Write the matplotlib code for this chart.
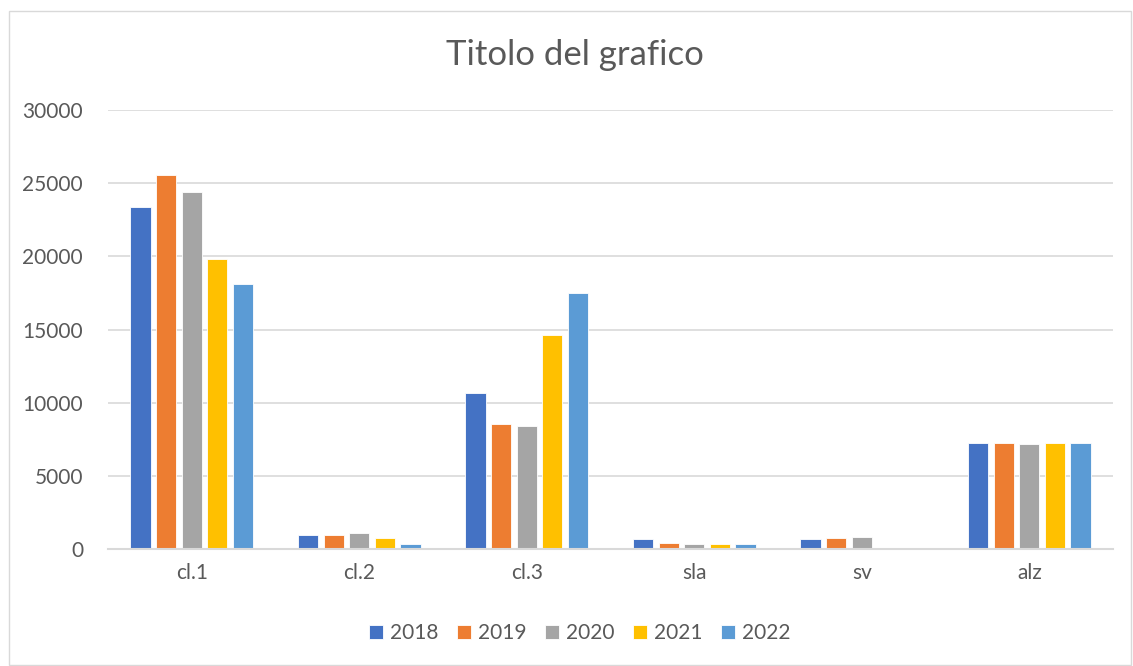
import numpy as np
import matplotlib
matplotlib.use("Agg")
import matplotlib.pyplot as plt
from matplotlib.patches import Rectangle

plt.rcParams['font.family'] = ['Lato', 'DejaVu Sans']

categories = ["cl.1", "cl.2", "cl.3", "sla", "sv", "alz"]
years = ["2018", "2019", "2020", "2021", "2022"]
colors = ["#4472C4", "#ED7D31", "#A5A5A5", "#FFC000", "#5B9BD5"]

v2018 = [23380, 960, 10660, 700, 650, 7270]
v2019 = [25560, 960, 8540, 440, 780, 7270]
v2020 = [24400, 1090, 8410, 370, 830, 7160]
v2021 = [19820, 730, 14630, 370, 0, 7220]
v2022 = [18110, 360, 17500, 370, 0, 7270]
series = [v2018, v2019, v2020, v2021, v2022]

TXT = "#595959"
GRID = "#D9D9D9"

fig = plt.figure(figsize = (11.33, 6.66), dpi = 100)
ax = fig.add_axes([108 / 1133, 1 - 549 / 666, (1113 - 108) / 1133, (549 - 110) / 666])

x = np.arange(len(categories))
step = 0.153
width = 0.12
for i, (vals, c) in enumerate(zip(series, colors)):
  ax.bar(x + (i - 2) * step, vals, width, color = c, label = years[i],
         edgecolor = "white", linewidth = 0.6, zorder = 3)

ax.set_xlim(-0.5, len(categories) - 0.5)
ax.set_ylim(0, 30000)
ax.set_yticks(range(0, 30001, 5000))
ax.set_xticks(x)
ax.set_xticklabels(categories)
ax.tick_params(length = 0, labelsize = 15, colors = TXT)
ax.tick_params(axis = "x", pad = 10)
ax.tick_params(axis = "y", pad = 18)
ax.grid(axis = "y", color = GRID, linewidth = 1.2, zorder = 0)
for s in ["top", "right", "left"]:
  ax.spines[s].set_visible(False)
ax.spines["bottom"].set_color(GRID)
ax.spines["bottom"].set_linewidth(1.5)
ax.spines["bottom"].set_zorder(4)

fig.text(575 / 1133, 1 - 55 / 666, "Titolo del grafico", ha = "center", va = "center",
         fontsize = 25, color = TXT)

leg = fig.legend(loc = "center", bbox_to_anchor = (580 / 1133, 1 - 633 / 666), ncol = 5,
                 frameon = False, fontsize = 15, handlelength = 0.65, handleheight = 0.65,
                 handletextpad = 0.35, columnspacing = 0.9, labelcolor = TXT)

fig.patches.append(Rectangle((9 / 1133, 1 / 666), 1122 / 1133, 654 / 666, transform = fig.transFigure,
                             fill = False, edgecolor = GRID, linewidth = 1))

fig.savefig("out.png", dpi = 100)
